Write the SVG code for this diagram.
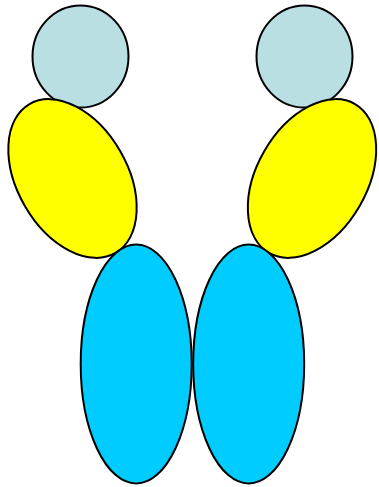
<svg xmlns="http://www.w3.org/2000/svg" width="379" height="487" viewBox="0 0 379 487">
<style>
.s{stroke:#000;stroke-width:2}
.head{fill:#b9dfe3}
.mid{fill:#ffff00}
.low{fill:#00ccff}
</style>
<rect width="379" height="487" fill="#fff"/>
<g id="head-left"><ellipse class="s head" cx="80.5" cy="56.5" rx="48" ry="51"/></g>
<g id="head-right"><ellipse class="s head" cx="304.5" cy="56.5" rx="48" ry="51"/></g>
<g id="mid-left"><ellipse class="s mid" cx="72.5" cy="178.5" rx="55" ry="86" transform="rotate(-30 72.5 178.5)"/></g>
<g id="mid-right"><ellipse class="s mid" cx="312" cy="178.5" rx="55" ry="86" transform="rotate(30 312 178.5)"/></g>
<g id="low-left"><ellipse class="s low" cx="136.2" cy="364" rx="55.5" ry="119.5"/></g>
<g id="low-right"><ellipse class="s low" cx="248.7" cy="364" rx="55.5" ry="119.5"/></g>
<g id="connectors"/>
</svg>
